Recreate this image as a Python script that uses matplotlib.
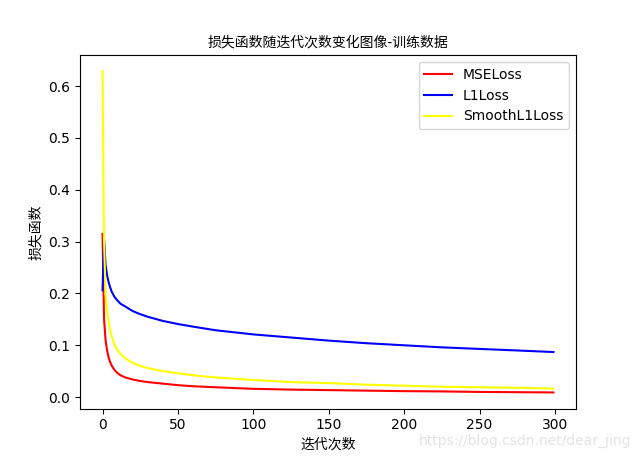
import matplotlib
matplotlib.use("Agg")
import matplotlib.pyplot as plt

plt.rcParams['font.family'] = ['DejaVu Sans', 'Noto Sans CJK SC']

epochs = [0, 1, 2, 3, 4, 5, 6, 8, 10, 12, 15, 20, 25, 30, 40, 50, 60, 75,
          100, 125, 150, 175, 200, 225, 250, 275, 299]

mse_loss = [0.315, 0.150, 0.110, 0.090, 0.077, 0.068, 0.061, 0.052, 0.046,
            0.042, 0.038, 0.034, 0.031, 0.029, 0.026, 0.023, 0.021, 0.019,
            0.016, 0.0145, 0.0135, 0.0125, 0.0115, 0.011, 0.010, 0.0095, 0.009]

l1_loss = [0.206, 0.305, 0.255, 0.235, 0.222, 0.212, 0.204, 0.193, 0.186,
           0.180, 0.175, 0.166, 0.160, 0.155, 0.147, 0.141, 0.136, 0.129,
           0.121, 0.115, 0.109, 0.104, 0.100, 0.096, 0.093, 0.090, 0.087]

smooth_l1_loss = [0.629, 0.300, 0.200, 0.165, 0.145, 0.130, 0.118, 0.100,
                  0.090, 0.083, 0.075, 0.066, 0.060, 0.056, 0.050, 0.046,
                  0.042, 0.038, 0.033, 0.029, 0.027, 0.024, 0.022, 0.020,
                  0.019, 0.018, 0.0165]

fig, ax = plt.subplots(figsize=(6.4, 4.59), dpi=100)

ax.plot(epochs, mse_loss, color="red", label="MSELoss")
ax.plot(epochs, l1_loss, color="blue", label="L1Loss")
ax.plot(epochs, smooth_l1_loss, color="yellow", label="SmoothL1Loss")

ax.set_title("损失函数随迭代次数变化图像-训练数据", fontsize=10)
ax.set_xlabel("迭代次数")
ax.set_ylabel("损失函数")
ax.legend(loc="upper right")

# csdn watermark
fig.text(0.987, 0.04, "https://blog.csdn.net/dear_jing", ha="right",
         va="center", fontsize=10, color="#e3e3e3")

fig.savefig("out.png", dpi=100)
